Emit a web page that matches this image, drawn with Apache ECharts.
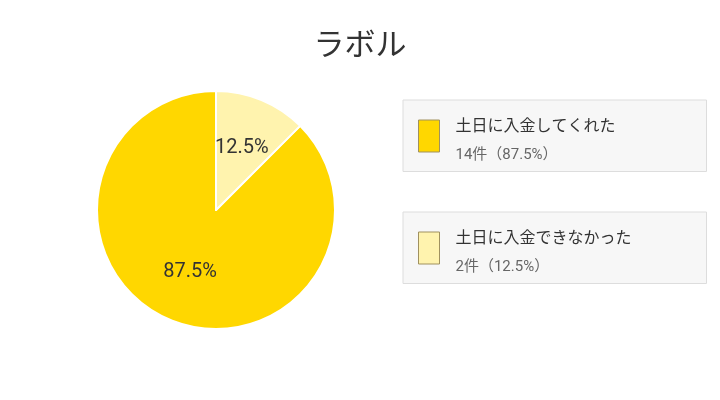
<!DOCTYPE html>
<html>
<head>
<meta charset="utf-8">
<script src="https://cdn.jsdelivr.net/npm/echarts@6/dist/echarts.min.js"></script>
<style>
html,body{margin:0;padding:0;background:#fff;}
#chart{width:720px;height:400px;}
</style>
</head>
<body>
<div id="chart"></div>
<script>
const titleText = 'ラボル';
const categories = ['土日に入金してくれた', '土日に入金できなかった'];
const values = [14, 2];
const unit = '件';
const colors = ['#FFD700', '#FFF3AE'];

const total = values.reduce((a, b) => a + b, 0);
const fontFam = 'Roboto, "Noto Sans CJK JP", sans-serif';
const pieCenter = [216, 210];
const pieRadius = 119;

const legendTops = [100, 212];
const legends = categories.map((name, i) => ({
  data: [name],
  left: 403,
  top: legendTops[i],
  orient: 'vertical',
  selectedMode: false,
  icon: 'rect',
  itemWidth: 21,
  itemHeight: 32,
  backgroundColor: '#f7f7f7',
  borderColor: '#dddddd',
  borderWidth: 1,
  padding: [19, 11, 9, 15],
  itemStyle: { borderColor: '#a0915f', borderWidth: 1 },
  formatter: function (n) {
    const idx = categories.indexOf(n);
    const pct = (values[idx] / total * 100).toFixed(1);
    return '{a|' + n + '}\n{b|' + values[idx] + unit + '（' + pct + '%）}';
  },
  textStyle: {
    padding: [0, 0, 0, 11],
    rich: {
      a: { fontSize: 16, color: '#333', lineHeight: 38, width: 240, fontFamily: fontFam },
      b: { fontSize: 15, color: '#666', lineHeight: 18, width: 240, fontFamily: fontFam }
    }
  }
}));

const chart = echarts.init(document.getElementById('chart'));
chart.setOption({
  animation: false,
  color: colors,
  title: {
    text: titleText,
    left: 'center',
    top: 27,
    textStyle: { fontSize: 31, fontWeight: 'normal', color: '#333', fontFamily: fontFam }
  },
  legend: legends,
  series: [{
    type: 'pie',
    center: pieCenter,
    radius: [0, pieRadius],
    clockwise: false,
    startAngle: 90,
    itemStyle: { borderColor: '#fff', borderWidth: 2 },
    label: {
      position: 'inside',
      formatter: '{d}%',
      fontSize: 20,
      color: '#333',
      fontFamily: fontFam
    },
    labelLayout: function (p) {
      const r = p.labelRect;
      const lx = r.x + r.width / 2 - pieCenter[0];
      const ly = r.y + r.height / 2 - pieCenter[1];
      return { dx: lx * 0.08, dy: ly * 0.08 };
    },
    labelLine: { show: false },
    emphasis: { disabled: true },
    data: categories.map((c, i) => ({ name: c, value: values[i] }))
  }]
});
</script>
</body>
</html>
